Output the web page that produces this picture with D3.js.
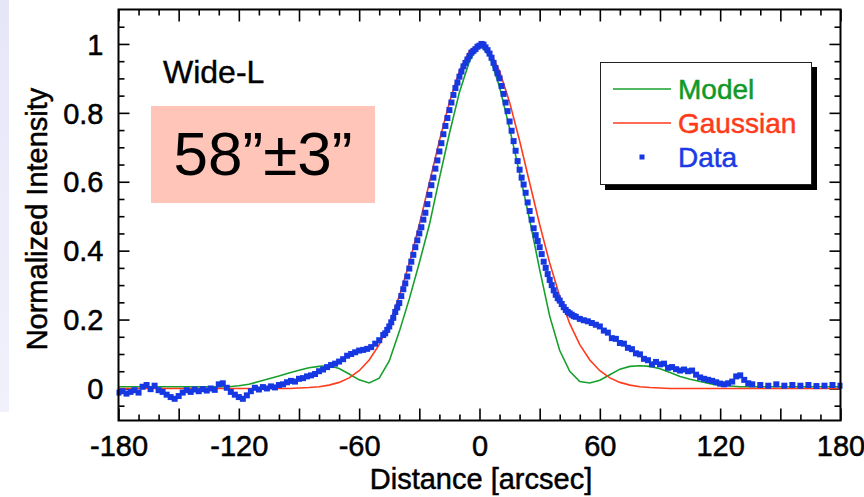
<!DOCTYPE html>
<html><head><meta charset="utf-8">
<script src="https://cdn.jsdelivr.net/npm/d3@7"></script>
<style>body{margin:0;background:#fff;} svg{display:block;}</style>
</head><body><svg id="c" width="864" height="497"></svg>
<script>
// ---- data ----
const curveDist = [-180,-175,-170,-165,-160,-155,-150,-145,-140,-135,-130,-125,-120,-115,-110,-105,-100,-95,-90,-85,-80,-75,-70,-65,-60,-55,-50,-45,-40,-35,-30,-25,-20,-15,-10,-5,0,5,10,15,20,25,30,35,40,45,50,55,60,65,70,75,80,85,90,95,100,105,110,115,120,125,130,135,140,145,150,155,160,165,170,175,180];
const modelVal = [0.005,0.005,0.005,0.005,0.005,0.005,0.005,0.005,0.005,0.005,0.005,0.005,
  0.008,0.012,0.02,0.028,0.036,0.045,0.053,0.06,0.064,0.066,0.058,0.042,0.025,0.016,0.03,0.08,0.165,0.26,0.365,0.475,0.61,0.74,0.86,0.95,1.0,
  0.965,0.875,0.755,0.625,0.49,0.345,0.21,0.11,0.05,0.02,0.016,0.024,0.04,0.056,0.064,0.066,0.064,0.057,0.046,0.035,0.027,0.02,0.014,0.009,0.007,
  0.005,0.005,0.005,0.005,0.005,0.005,0.005,0.005,0.005,0.005,0.005];
const gaussVal = [0,0,0,0,0,0,0,0,0,0,0,0,0,0,0,0,0,0,
  0.0013,0.0026,0.0051,0.0097,0.0176,0.0307,0.0515,0.0827,0.127,0.188,0.268,0.364,0.476,0.597,0.719,0.831,0.921,0.980,1.0,
  0.980,0.921,0.831,0.719,0.597,0.476,0.364,0.268,0.188,0.127,0.0827,0.0515,0.0307,0.0176,0.0097,0.0051,0.0026,0.0013,
  0,0,0,0,0,0,0,0,0,0,0,0,0,0,0,0,0,0];
const dataDist = [-180,-178,-176,-174,-172,-170,-168,-166,-164,-162,-160,-158,-156,-154,-152,-150,-148,-146,-144,-142,
  -140,-138,-136,-134,-132,-130,-128,-126,-124,-122,-120,-118,-116,-114,-112,-110,-108,-106,-104,-102,
  -100,-98,-96,-94,-92,-90,-88,-86,-84,-82,-80,-78,-76,-74,-72,-70,-68,-66,-64,-62,
  -60,-58,-56,-54,-52,-50,-48,
  -47,-46,-45,-44,-43,-42,-41,-40,-39,-38,-37,-36,-35,-34,-33,-32,-31,-30,-29,-28,-27,-26,-25,-24,-23,-22,-21,-20,-19,-18,-17,-16,-15,-14,-13,-12,-11,-10,-9,-8,-7,-6,-5,-4,-3,-2,-1,
  0,1,2,3,4,5,6,7,8,9,10,11,12,13,14,15,16,17,18,19,20,21,22,23,24,25,26,27,28,29,30,31,32,33,34,35,36,37,38,39,40,41,42,43,44,45,46,47,
  48,50,52,54,56,58,60,62,64,66,68,70,72,74,76,78,80,82,84,86,88,90,92,94,96,98,100,102,104,106,108,110,112,114,116,118,120,122,124,126,128,130,132,134,136,
  140,144,148,152,156,160,164,168,172,176,180];
const dataVal = [-0.012,-0.008,-0.015,-0.010,-0.005,-0.012,0.005,0.010,-0.002,0.008,
  -0.005,-0.010,-0.018,-0.025,-0.030,-0.022,-0.012,-0.005,-0.010,-0.003,
  -0.008,-0.002,-0.006,0.000,-0.004,0.012,0.015,0.002,-0.010,-0.018,
  -0.025,-0.030,-0.020,-0.008,0.002,-0.003,0.004,0.000,0.006,0.003,
  0.010,0.012,0.018,0.022,0.020,0.028,0.030,0.035,0.038,0.042,
  0.050,0.055,0.062,0.068,0.072,0.078,0.085,0.095,0.100,0.105,
  0.110,0.112,0.115,0.120,0.130,0.140,0.155,
  0.160,0.170,0.180,0.192,0.205,0.222,0.235,0.248,0.268,0.288,0.305,0.325,0.348,0.368,0.388,0.410,0.430,0.450,0.468,0.490,
  0.510,0.535,0.562,0.590,0.612,0.638,0.662,0.688,0.712,0.738,0.762,0.785,0.808,0.830,0.852,0.872,0.888,0.905,0.920,0.935,
  0.945,0.955,0.965,0.975,0.980,0.985,0.992,
  0.995,1.000,0.998,0.990,0.982,0.972,0.960,0.945,0.930,0.915,0.900,0.878,0.855,0.830,0.805,0.775,0.748,0.718,0.690,0.660,
  0.635,0.612,0.592,0.568,0.540,0.515,0.490,0.465,0.445,0.428,0.410,0.390,0.368,0.350,0.332,0.315,0.300,0.285,0.272,0.262,
  0.255,0.245,0.236,0.228,0.222,0.218,0.214,0.210,
  0.208,0.202,0.198,0.195,0.190,0.185,
  0.180,0.168,0.162,0.146,0.144,0.132,0.130,0.118,0.114,0.102,
  0.099,0.086,0.082,0.070,0.077,0.070,0.072,0.060,0.062,0.056,
  0.052,0.055,0.050,0.052,0.040,0.032,0.028,0.025,0.022,0.018,
  0.014,0.012,0.015,0.020,0.035,0.038,0.025,0.015,0.012,
  0.010,0.008,0.012,0.008,0.010,0.008,0.010,0.007,0.008,0.010,0.008];
const xLabelTicks = [-180,-120,-60,0,60,120,180];
const yLabelTicks = [0,0.2,0.4,0.6,0.8,1];
const legendNames = ["Model","Gaussian","Data"];

// ---- layout ----
const FONT = "'Liberation Sans', Arial, Helvetica, sans-serif";
const L = 118.5, R = 840.5, T = 9.5, B = 420.5;
const GREEN = "#16a02c", RED = "#ff3b1c", BLUE = "#1538e2";
const GREEN_T = "#0f9a28", RED_T = "#ff3a1a", BLUE_T = "#1a3ae6";

const svg = d3.select("#c");
const x = d3.scaleLinear().domain([-180,180]).range([L,R]);
const y = d3.scaleLinear().domain([-0.093,1.1]).range([B,T]);

function heavy(sel, col, w){ return sel.attr("fill",col).attr("stroke",col).attr("stroke-width",w).attr("paint-order","stroke"); }

// left lavender band
const grad = svg.append("defs").append("linearGradient").attr("id","lav").attr("x1",0).attr("y1",0).attr("x2",0).attr("y2",1);
grad.append("stop").attr("offset","0%").attr("stop-color","#e6e6f9");
grad.append("stop").attr("offset","100%").attr("stop-color","#f1f1fb");
svg.append("rect").attr("x",0).attr("y",0).attr("width",9).attr("height",412).attr("fill","url(#lav)");

// ---- axes (ticks inward) ----
const xMajor = d3.range(-180,181,30), xMinor = d3.range(-180,181,10).filter(d=>d%30!==0);
const yAll = d3.range(-1,22).map(i=>+(i*0.05).toFixed(2));
const yMajor = yAll.filter(v=>Math.abs(Math.round(v*5)-v*5)<1e-6 && v>=0);
const yMinor = yAll.filter(v=>!yMajor.includes(v));

function styleAxis(g){ g.select(".domain").remove(); g.selectAll("line").attr("stroke","#000").attr("stroke-width",1.6); }

svg.append("g").attr("transform",`translate(0,${B})`)
  .call(d3.axisBottom(x).tickValues(xMinor).tickSize(-6).tickFormat("")).call(styleAxis);
const gxb = svg.append("g").attr("transform",`translate(0,${B})`)
  .call(d3.axisBottom(x).tickValues(xMajor).tickSize(-12).tickFormat(d=>xLabelTicks.includes(d)?String(d):""))
  .call(styleAxis);
gxb.selectAll("text").attr("y",35).attr("dy",0).attr("font-size",29).attr("font-family",FONT).call(heavy,"#000",0.5);

svg.append("g").attr("transform",`translate(0,${T})`)
  .call(d3.axisTop(x).tickValues(xMinor).tickSize(-6).tickFormat("")).call(styleAxis);
svg.append("g").attr("transform",`translate(0,${T})`)
  .call(d3.axisTop(x).tickValues(xMajor).tickSize(-12).tickFormat("")).call(styleAxis);

svg.append("g").attr("transform",`translate(${L},0)`)
  .call(d3.axisLeft(y).tickValues(yMinor).tickSize(-6).tickFormat("")).call(styleAxis);
const gyl = svg.append("g").attr("transform",`translate(${L},0)`)
  .call(d3.axisLeft(y).tickValues(yMajor).tickSize(-11).tickFormat(d=>yLabelTicks.includes(d)?String(d):""))
  .call(styleAxis);
gyl.selectAll("text").attr("x",-15).attr("dy","0.35em").attr("font-size",29).attr("font-family",FONT).call(heavy,"#000",0.5);

svg.append("g").attr("transform",`translate(${R},0)`)
  .call(d3.axisRight(y).tickValues(yMinor).tickSize(-6).tickFormat("")).call(styleAxis);
svg.append("g").attr("transform",`translate(${R},0)`)
  .call(d3.axisRight(y).tickValues(yMajor).tickSize(-11).tickFormat("")).call(styleAxis);

// ---- series ----
svg.append("clipPath").attr("id","pc").append("rect").attr("x",L-2).attr("y",T).attr("width",R-L+4).attr("height",B-T);
const line = d3.line().x((d,i)=>x(curveDist[i])).y(d=>y(d));
svg.append("path").attr("d",line(modelVal)).attr("fill","none").attr("stroke",GREEN).attr("stroke-width",1.6).attr("clip-path","url(#pc)");
svg.append("path").attr("d",line(gaussVal)).attr("fill","none").attr("stroke",RED).attr("stroke-width",1.6).attr("clip-path","url(#pc)");
svg.append("g").attr("clip-path","url(#pc)").selectAll("rect").data(dataVal).join("rect")
  .attr("x",(d,i)=>x(dataDist[i])-3).attr("y",d=>y(d)-3).attr("width",6).attr("height",6).attr("fill",BLUE);

// frame
svg.append("rect").attr("x",L).attr("y",T).attr("width",R-L).attr("height",B-T).attr("fill","none").attr("stroke","#000").attr("stroke-width",2);

// ---- titles ----
svg.append("text").attr("x",481).attr("y",489).attr("text-anchor","middle").attr("font-size",29).attr("font-family",FONT).call(heavy,"#000",0.5).text("Distance [arcsec]");
svg.append("text").attr("transform","translate(47,219) rotate(-90)").attr("text-anchor","middle").attr("font-size",29).attr("font-family",FONT).call(heavy,"#000",0.5).text("Normalized Intensity");

// annotations
svg.append("text").attr("x",163).attr("y",83).attr("font-size",32).attr("font-family",FONT).call(heavy,"#000",0.4).text("Wide-L");
svg.append("rect").attr("x",151).attr("y",106).attr("width",224).attr("height",97).attr("fill","#fec5b8");
svg.append("text").attr("x",263).attr("y",175).attr("text-anchor","middle").attr("font-size",62).attr("font-family",FONT).text("58\u201d\u00b13\u201d");

// ---- legend ----
const lg = svg.append("g");
lg.append("rect").attr("x",605).attr("y",67).attr("width",212).attr("height",123).attr("fill","#000");
lg.append("rect").attr("x",600.5).attr("y",62.5).attr("width",211).attr("height",122).attr("fill","#fff").attr("stroke","#222").attr("stroke-width",1);
const lcol = [GREEN, RED, BLUE], tcol = [GREEN_T, RED_T, BLUE_T];
legendNames.forEach((n,i)=>{
  const cy = 89 + i*34;
  if(i<2) lg.append("line").attr("x1",613).attr("x2",671).attr("y1",cy).attr("y2",cy).attr("stroke",lcol[i]).attr("stroke-width",1.6);
  else lg.append("rect").attr("x",639.5).attr("y",cy-2.5).attr("width",5).attr("height",5).attr("fill",lcol[i]);
  lg.append("text").attr("x",678).attr("y",cy+10).attr("font-size",28).attr("font-family",FONT).call(heavy,tcol[i],0.5).text(n);
});
</script></body></html>
